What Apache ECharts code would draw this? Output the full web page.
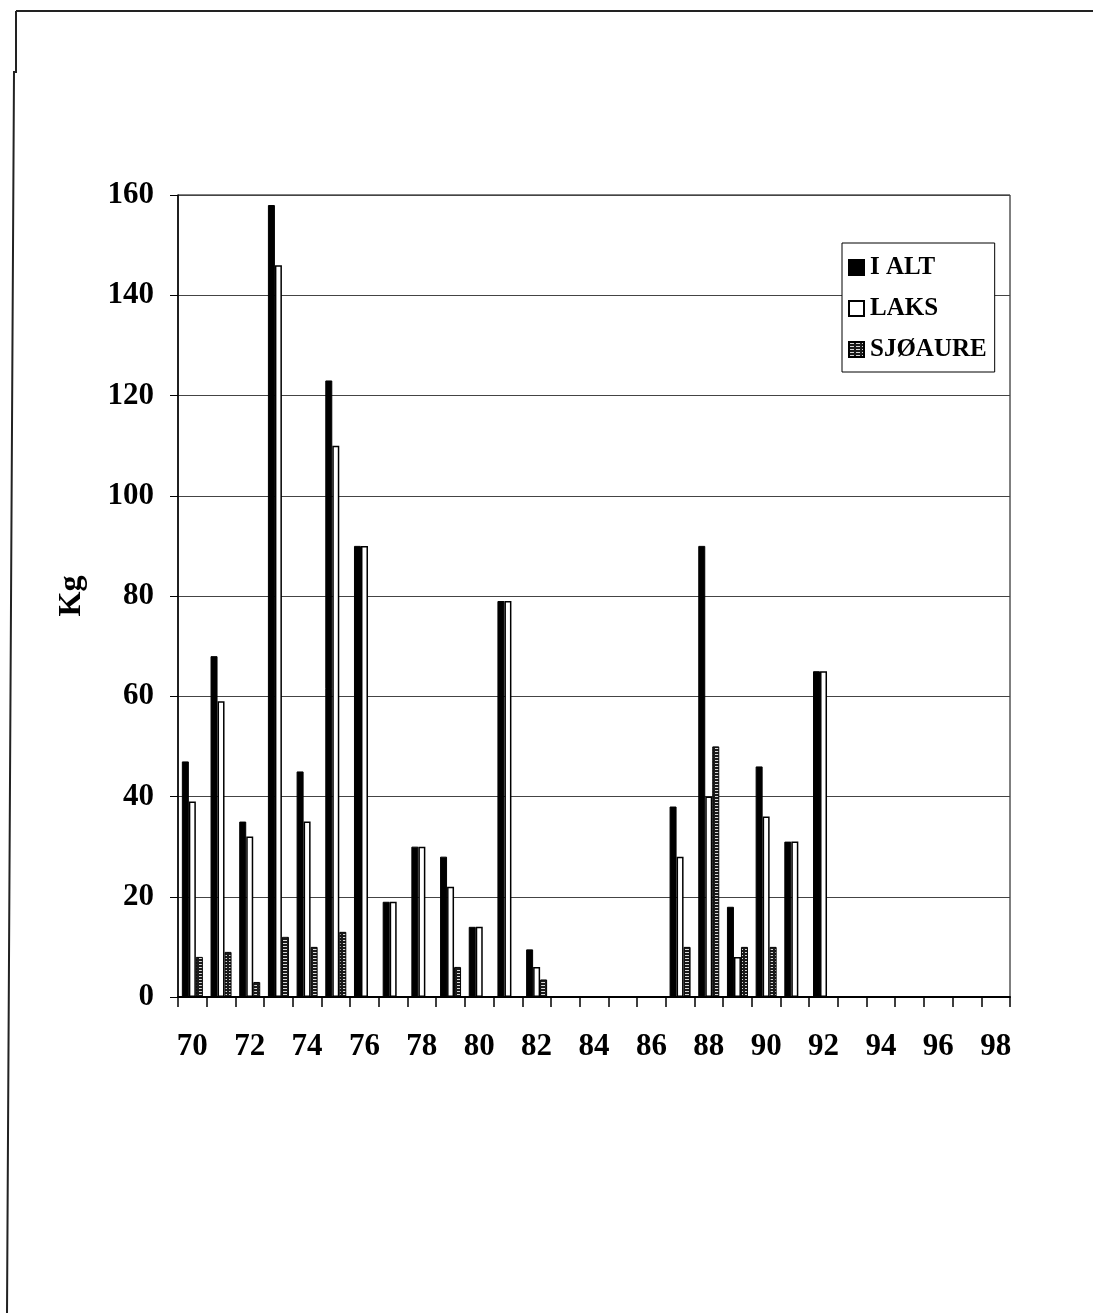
<!DOCTYPE html>
<html>
<head>
<meta charset="utf-8">
<script src="https://cdn.jsdelivr.net/npm/echarts@6/dist/echarts.min.js"></script>
<style>
html,body{margin:0;padding:0;background:#fff;}
#c{width:1093px;height:1313px;}
</style>
</head>
<body>
<div id="c"></div>
<script>
var years = ['70','71','72','73','74','75','76','77','78','79','80','81','82','83','84','85','86','87','88','89','90','91','92','93','94','95','96','97','98'];
var ialt = [47,68,35,158,45,123,90,19,30,28,14,79,9.5,0,0,0,0,38,90,18,46,31,65,0,0,0,0,0,0];
var laks = [39,59,32,146,35,110,90,19,30,22,14,79,6,0,0,0,0,28,40,8,36,31,65,0,0,0,0,0,0];
var sjoaure = [8,9,3,12,10,13,0,0,0,6,0,0,3.5,0,0,0,0,10,50,10,10,0,0,0,0,0,0,0,0];
var yTicks = [0,20,40,60,80,100,120,140,160];
var seriesNames = ['I ALT','LAKS','SJØAURE'];

var pc = document.createElement('canvas');
pc.width = 6; pc.height = 3;
var ctx = pc.getContext('2d');
ctx.fillStyle = '#1a1a1a'; ctx.fillRect(0,0,6,3);
ctx.fillStyle = '#d8d8d8'; ctx.fillRect(1,1,4,1);
var hatch = {image: pc, repeat: 'repeat'};

var FONT = '"Liberation Serif","Times New Roman",serif';
var chart = echarts.init(document.getElementById('c'), null, {renderer:'canvas'});
chart.setOption({
  backgroundColor: '#fff',
  animation: false,
  graphic: [
    {type:'polyline', shape:{points:[[16,11],[1093,11]]}, style:{stroke:'#222', lineWidth:2}},
    {type:'polyline', shape:{points:[[16,11],[16,72],[14,72],[7,1313]]}, style:{stroke:'#222', lineWidth:2, fill:null}}
  ],
  grid: {left:178, right:83, top:195, bottom:316, show:true, borderColor:'#000', borderWidth:1, backgroundColor:'transparent'},
  legend: {
    orient:'vertical', left:842, top:243,
    data: seriesNames,
    icon:'rect',
    backgroundColor:'#fff', borderColor:'#000', borderWidth:1,
    padding:[12,8,10,6],
    itemWidth:15, itemHeight:15, itemGap:16,
    textStyle:{fontFamily:FONT, fontWeight:'bold', fontSize:25, color:'#000', padding:[0,0,0,1]}
  },
  xAxis: {
    type:'category', data: years,
    axisLine:{show:true, lineStyle:{color:'#000', width:2}},
    axisTick:{show:true, interval:0, length:10, lineStyle:{color:'#000', width:1.5}},
    axisLabel:{interval:1, margin:34, fontFamily:FONT, fontWeight:'bold', fontSize:31, color:'#000'}
  },
  yAxis: {
    type:'value', min:yTicks[0], max:yTicks[yTicks.length-1], interval:20,
    name:'Kg', nameLocation:'middle', nameRotate:90, nameGap:90,
    nameTextStyle:{fontFamily:FONT, fontWeight:'bold', fontSize:32, color:'#000'},
    axisLine:{show:true, lineStyle:{color:'#000', width:1.5}},
    axisTick:{show:true, length:8, lineStyle:{color:'#000'}},
    axisLabel:{margin:24, fontFamily:FONT, fontWeight:'bold', fontSize:31, color:'#000'},
    splitLine:{show:true, lineStyle:{color:'#444', width:1}}
  },
  series: [
    {name:seriesNames[0], type:'bar', data:ialt, barWidth:7, barGap:'0%',
     itemStyle:{color:'#000', borderColor:'#000', borderWidth:1}},
    {name:seriesNames[1], type:'bar', data:laks, barWidth:7, barGap:'0%',
     itemStyle:{color:'#fff', borderColor:'#000', borderWidth:1.5}},
    {name:seriesNames[2], type:'bar', data:sjoaure, barWidth:7, barGap:'0%',
     itemStyle:{color:hatch, borderColor:'#000', borderWidth:1}}
  ]
});
</script>
</body>
</html>
